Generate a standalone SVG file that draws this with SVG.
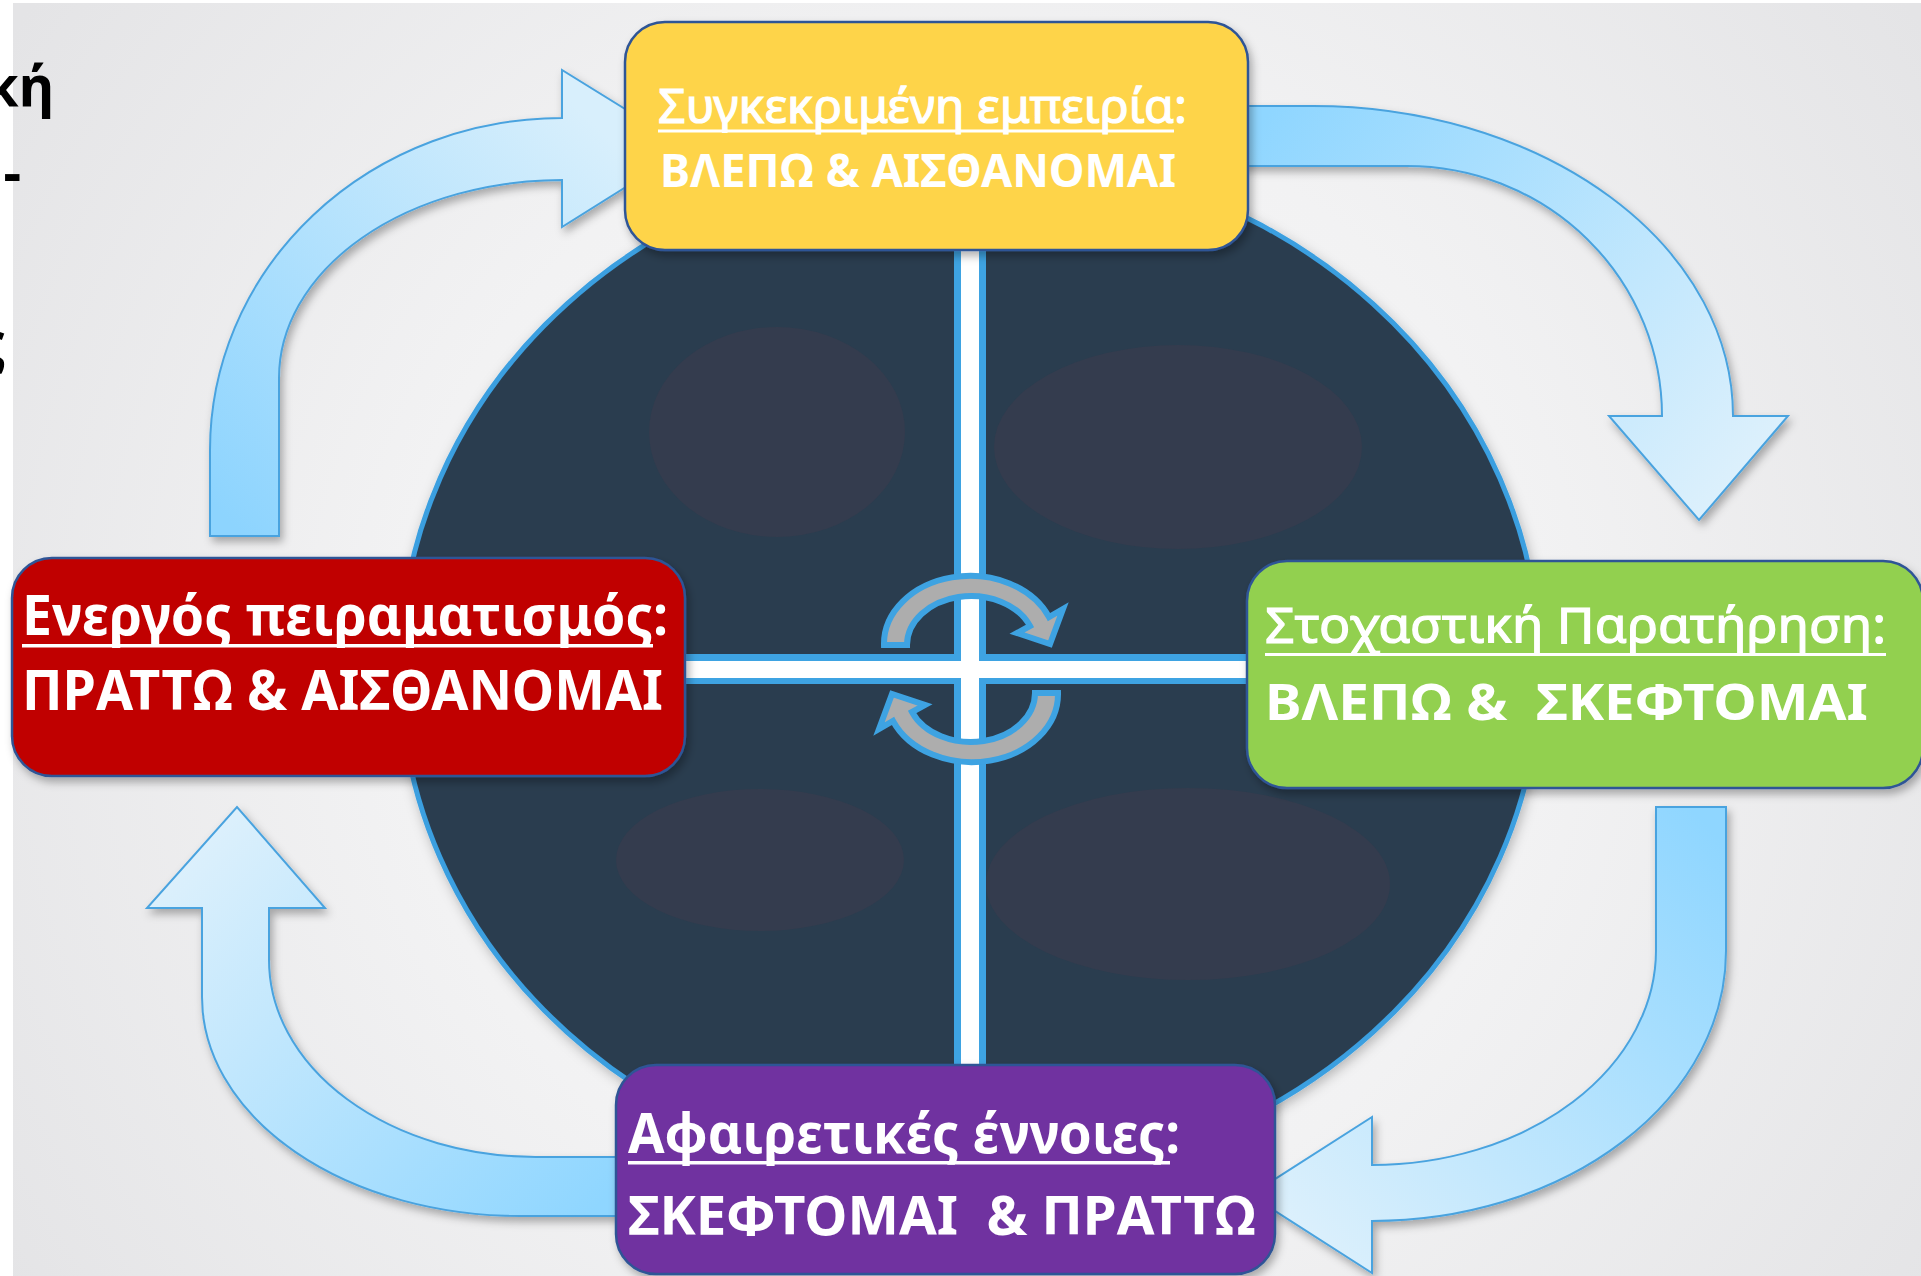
<svg xmlns="http://www.w3.org/2000/svg" width="1921" height="1276" viewBox="0 0 1921 1276">
<defs>
<radialGradient id="bg" gradientUnits="userSpaceOnUse" cx="970" cy="668" r="1150">
<stop offset="0" stop-color="#f8f8f8"/>
<stop offset="0.5" stop-color="#f2f2f3"/>
<stop offset="1" stop-color="#e4e4e6"/>
</radialGradient>
<linearGradient id="g1" gradientUnits="userSpaceOnUse" x1="245" y1="536" x2="620" y2="148">
<stop offset="0" stop-color="#8dd4fe"/><stop offset="1" stop-color="#d8effc"/>
</linearGradient>
<linearGradient id="g2" gradientUnits="userSpaceOnUse" x1="1250" y1="136" x2="1700" y2="520">
<stop offset="0" stop-color="#8fd6ff"/><stop offset="1" stop-color="#dcf0fc"/>
</linearGradient>
<linearGradient id="g3" gradientUnits="userSpaceOnUse" x1="1690" y1="807" x2="1260" y2="1195">
<stop offset="0" stop-color="#8fd6ff"/><stop offset="1" stop-color="#dcf0fc"/>
</linearGradient>
<linearGradient id="g4" gradientUnits="userSpaceOnUse" x1="616" y1="1187" x2="237" y2="807">
<stop offset="0" stop-color="#8fd6ff"/><stop offset="1" stop-color="#dcf0fc"/>
</linearGradient>
<filter id="sh" x="-10%" y="-10%" width="130%" height="130%">
<feDropShadow dx="3" dy="5" stdDeviation="4" flood-color="#000" flood-opacity="0.3"/>
</filter>
<filter id="shc" x="-10%" y="-10%" width="130%" height="130%">
<feDropShadow dx="2" dy="4" stdDeviation="6" flood-color="#000" flood-opacity="0.25"/>
</filter>
</defs>
<style>
.arrow{stroke:#4aa3df;stroke-width:2;stroke-linejoin:miter;filter:url(#sh)}
.box{stroke:#2f5496;stroke-width:2.5;filter:url(#sh)}
.t{font-family:"Noto Sans","Open Sans","DejaVu Sans",sans-serif;fill:#fff}
.b{font-weight:bold}
.sb{font-weight:normal;stroke:#fff;stroke-width:1.2}
.ul{fill:#fff}
.blk{font-family:"Noto Sans","Open Sans","DejaVu Sans",sans-serif;font-weight:bold;fill:#000;font-size:55px}
.cyc{fill:#adadad;stroke:#3ea3e2;stroke-width:6;stroke-linejoin:miter}
.oval{fill:#343c4e}
</style>
<rect width="1921" height="1276" fill="#ffffff"/>
<rect x="13" y="3" width="1908" height="1273" fill="url(#bg)"/>

<g id="title-fragment">
<text class="blk" x="54" y="106" text-anchor="end">κή</text>
<text class="blk" x="21" y="192" text-anchor="end">-</text>
<text class="blk" x="6" y="362" text-anchor="end">ς</text>
</g>

<g id="cycle-core">
<ellipse cx="970" cy="668" rx="570" ry="515" fill="#2c3e50" stroke="#3a9fe0" stroke-width="5" filter="url(#shc)"/>
<ellipse class="oval" cx="777" cy="432" rx="128" ry="105"/>
<ellipse class="oval" cx="1178" cy="447" rx="184" ry="102"/>
<ellipse class="oval" cx="760" cy="860" rx="144" ry="71"/>
<ellipse class="oval" cx="1188" cy="884" rx="202" ry="96"/>
<rect x="954" y="240" width="32" height="835" fill="#3ea3e2"/>
<rect x="675" y="654" width="580" height="30" fill="#3ea3e2"/>
<rect x="961" y="240" width="18" height="835" fill="#ffffff"/>
<rect x="675" y="661" width="580" height="17" fill="#ffffff"/>
<path id="cyc-top" class="cyc" d="M 884 645 A 86 68 0 0 1 1049 617 L 1063 609 L 1050 644 L 1017 633 L 1030 626 A 64 49 0 0 0 907 645 Z"/>
<use href="#cyc-top" transform="rotate(180 971 669)"/>
</g>

<g id="connectors">
<path class="arrow" fill="url(#g1)" d="M 210 536 L 210 450 A 352 332 0 0 1 562 118 L 562 70 L 688 148 L 562 227 L 562 180 A 283 198 0 0 0 279 378 L 279 536 Z"/>
<path class="arrow" fill="url(#g2)" d="M 1240 106 L 1313 106 A 420 310 0 0 1 1733 416 L 1788 416 L 1699 520 L 1609 416 L 1662 416 A 255 250 0 0 0 1407 166 L 1240 166 Z"/>
<path class="arrow" fill="url(#g3)" d="M 1656 807 L 1726 807 L 1726 951 A 354 270 0 0 1 1372 1221 L 1372 1273 L 1250 1195 L 1372 1117 L 1372 1165 A 284 215 0 0 0 1656 950 Z"/>
<path class="arrow" fill="url(#g4)" d="M 630 1216 L 520 1216 A 318 219 0 0 1 202 997 L 202 908 L 147 908 L 237 807 L 325 908 L 269 908 L 269 960 A 267 197 0 0 0 536 1157 L 630 1157 Z"/>
</g>

<g id="node-concrete">
<rect class="box" x="625" y="22" width="623" height="228" rx="40" fill="#fed44a"/>
<text class="t sb" x="658" y="123" font-size="47" textLength="529" lengthAdjust="spacingAndGlyphs">Συγκεκριμένη εμπειρία:</text>
<rect class="ul" x="658" y="129.5" width="516" height="3"/>
<text class="t b" x="660" y="187" font-size="47" textLength="516" lengthAdjust="spacingAndGlyphs">ΒΛΕΠΩ &amp; ΑΙΣΘΑΝΟΜΑΙ</text>
</g>

<g id="node-active">
<rect class="box" x="12" y="558" width="673" height="218" rx="40" fill="#c00000"/>
<text class="t b" x="22" y="635" font-size="56" textLength="646" lengthAdjust="spacingAndGlyphs">Ενεργός πειραματισμός:</text>
<rect class="ul" x="22" y="644" width="631" height="3.5"/>
<text class="t b" x="22" y="710" font-size="56" textLength="641" lengthAdjust="spacingAndGlyphs">ΠΡΑΤΤΩ &amp; ΑΙΣΘΑΝΟΜΑΙ</text>
</g>

<g id="node-reflective">
<rect class="box" x="1247" y="561" width="676" height="227" rx="40" fill="#92d050"/>
<text class="t sb" x="1265" y="643" font-size="50" textLength="621" lengthAdjust="spacingAndGlyphs">Στοχαστική Παρατήρηση:</text>
<rect class="ul" x="1265" y="653" width="621" height="3"/>
<text class="t b" x="1265" y="720" font-size="51" textLength="603" lengthAdjust="spacingAndGlyphs" xml:space="preserve">ΒΛΕΠΩ &amp;  ΣΚΕΦΤΟΜΑΙ</text>
</g>

<g id="node-abstract">
<rect class="box" x="616" y="1065" width="659" height="209" rx="40" fill="#7030a0"/>
<text class="t b" x="628" y="1153" font-size="56" textLength="552" lengthAdjust="spacingAndGlyphs">Αφαιρετικές έννοιες:</text>
<rect class="ul" x="628" y="1161" width="542" height="3.5"/>
<text class="t b" x="628" y="1235" font-size="54" textLength="628" lengthAdjust="spacingAndGlyphs" xml:space="preserve">ΣΚΕΦΤΟΜΑΙ  &amp; ΠΡΑΤΤΩ</text>
</g>
</svg>
